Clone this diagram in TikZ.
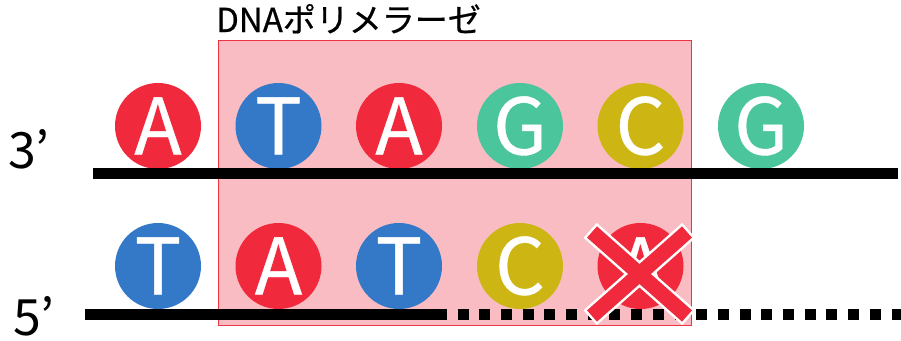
\documentclass[tikz,border=0pt]{standalone}
\usepackage{fontspec}
\setmainfont{Noto Sans CJK JP}
\newfontfamily\jpfont{Noto Sans CJK JP}
\newfontfamily\basefont[FakeBold=0.5]{Noto Sans CJK JP}
\newfontfamily\labfont[FakeBold=0.6]{Noto Sans CJK JP}
\definecolor{basered}{HTML}{F0293C}
\definecolor{baseblue}{HTML}{3478C8}
\definecolor{basegreen}{HTML}{4BC59B}
\definecolor{baseyellow}{HTML}{CDB614}
\definecolor{polyfill}{HTML}{F9BCC2}
\definecolor{polyedge}{HTML}{EE3344}
\tikzset{
  base/.style={circle, minimum size=86pt, inner sep=0pt, text=white,
    font=\basefont\fontsize{78}{78}\selectfont, text height=57pt, text depth=0pt},
  bA/.style={base, fill=basered},
  bT/.style={base, fill=baseblue},
  bG/.style={base, fill=basegreen},
  bC/.style={base, fill=baseyellow},
  strand/.style={line width=11pt, black},
  endlabel/.style={anchor=base west, inner sep=0pt, font=\jpfont\fontsize{50}{50}\selectfont}
}
\begin{document}
\begin{tikzpicture}[x=1pt,y=-1pt]
\useasboundingbox (0,0) rectangle (901,340);
% polymerase box
\node[draw=polyedge, fill=polyfill, line width=1.2pt, minimum width=473pt, minimum height=285pt, inner sep=0pt, anchor=north west] (poly) at (217.5,40) {};
\node[anchor=base west, inner sep=0pt, font=\labfont\fontsize{33}{33}\selectfont] (polylabel) at (216,32) {DNAポリメラーゼ};
% strands
\coordinate (s3a) at (93,173.7);
\coordinate (s3b) at (898,173.7);
\coordinate (s5a) at (85,314);
\coordinate (s5b) at (447,314);
\coordinate (s5c) at (457.5,314);
\coordinate (s5d) at (901,314);
% top bases
\node[bA] (t1) at (158,126) {A};
\node[bT] (t2) at (278.5,126) {T};
\node[bA] (t3) at (399,126) {A};
\node[bG] (t4) at (520,126) {G};
\node[bC] (t5) at (640.5,126) {C};
\node[bG] (t6) at (761,126) {G};
% bottom bases
\node[bT] (b1) at (158,266) {T};
\node[bA] (b2) at (278.5,266) {A};
\node[bT] (b3) at (399,266) {T};
\node[bC] (b4) at (520,266) {C};
\node[bA] (b5) at (640.5,266) {A};
\draw[strand] (s3a) -- (s3b);
\draw[strand] (s5a) -- (s5b);
\draw[strand, dash pattern=on 11pt off 10.7pt] (s5c) -- (s5d);
% cross
\coordinate (x1) at (592,232);
\coordinate (x2) at (687,316);
\coordinate (x3) at (687,232);
\coordinate (x4) at (592,316);
\draw[white, line width=20pt, shorten <=-2.5pt, shorten >=-2.5pt] (x1) -- (x2);
\draw[white, line width=20pt, shorten <=-2.5pt, shorten >=-2.5pt] (x3) -- (x4);
\draw[basered, line width=15pt] (x1) -- (x2);
\draw[basered, line width=15pt] (x3) -- (x4);
% end labels
\node[endlabel] (l3) at (8,168) {3’};
\node[endlabel] (l5) at (13,335) {5’};
\end{tikzpicture}
\end{document}
